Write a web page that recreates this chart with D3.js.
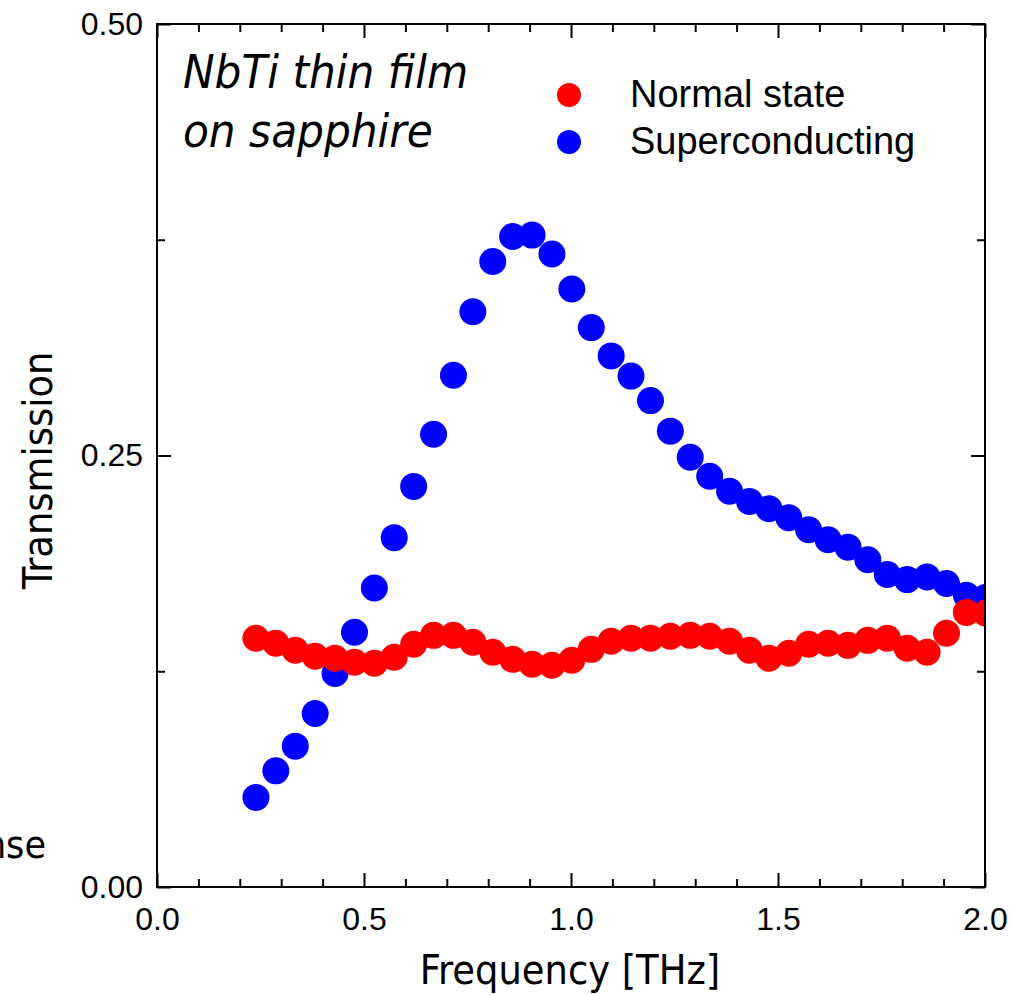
<!DOCTYPE html>
<meta charset="utf-8">
<style>
body { margin: 0; background: #fff; }
.axis text { font-family: "Liberation Sans", Arial, sans-serif; font-size: 32px; fill: #000; }
.axis line { stroke: #000; stroke-width: 2px; }
.title { font-family: "DejaVu Sans Condensed", "DejaVu Sans", sans-serif; font-size: 41px; fill: #000; }
.note { font-family: "DejaVu Sans Condensed", "DejaVu Sans", sans-serif; font-style: italic; font-size: 47px; fill: #000; }
.legend text { font-family: "Liberation Sans", Arial, sans-serif; font-size: 38px; fill: #000; }
</style>
<svg width="1022" height="995"></svg>
<script src="https://cdnjs.cloudflare.com/ajax/libs/d3/7.8.5/d3.min.js"></script>
<script>

// frequency points (THz)
var freq = [0.239, 0.287, 0.334, 0.382, 0.430, 0.477, 0.525, 0.573, 0.620, 0.668,
            0.716, 0.763, 0.811, 0.859, 0.906, 0.954, 1.002, 1.049, 1.097, 1.145,
            1.192, 1.240, 1.288, 1.335, 1.383, 1.431, 1.478, 1.526, 1.574, 1.621,
            1.669, 1.717, 1.764, 1.812, 1.860, 1.907, 1.955, 2.002];

var normalState = [0.1441, 0.1412, 0.1372, 0.1337, 0.1325, 0.1302, 0.1296, 0.1331, 0.1406, 0.1458,
                   0.1458, 0.1418, 0.1360, 0.1319, 0.1291, 0.1285, 0.1314, 0.1377, 0.1424, 0.1441,
                   0.1441, 0.1453, 0.1458, 0.1453, 0.1424, 0.1372, 0.1325, 0.1354, 0.1406, 0.1412,
                   0.1400, 0.1429, 0.1441, 0.1383, 0.1360, 0.1470, 0.1591, 0.1586];

var superconducting = [0.0519, 0.0673, 0.0816, 0.1005, 0.1237, 0.1476, 0.1732, 0.2024, 0.2321, 0.2623,
                       0.2965, 0.3333, 0.3624, 0.3769, 0.3777, 0.3667, 0.3465, 0.3241, 0.3077, 0.2960,
                       0.2818, 0.2641, 0.2490, 0.2380, 0.2293, 0.2234, 0.2192, 0.2140, 0.2070, 0.2012,
                       0.1969, 0.1896, 0.1811, 0.1781, 0.1796, 0.1758, 0.1690, 0.1678];

var xMajor = [0, 0.5, 1.0, 1.5, 2.0];
var xMinor = [0.1, 0.2, 0.3, 0.4, 0.6, 0.7, 0.8, 0.9, 1.1, 1.2, 1.3, 1.4, 1.6, 1.7, 1.8, 1.9];
var yMajor = [0, 0.25, 0.5];
var yMinor = [0.125, 0.375];

var seriesNames = ["Normal state", "Superconducting"];
var seriesColors = ["#ff0000", "#0000ff"];

var svg = d3.select("svg"),
    margin = {top: 24, right: 37, bottom: 108, left: 157},
    width = +svg.attr("width") - margin.left - margin.right,
    height = +svg.attr("height") - margin.top - margin.bottom;

var x = d3.scaleLinear().domain([0, 2]).range([0, width]);
var y = d3.scaleLinear().domain([0, 0.5]).range([height, 0]);

var g = svg.append("g")
    .attr("transform", "translate(" + margin.left + "," + margin.top + ")");

g.append("clipPath")
    .attr("id", "clip")
  .append("rect")
    .attr("width", width)
    .attr("height", height);

// points: superconducting underneath, normal state on top
var plot = g.append("g").attr("clip-path", "url(#clip)");

plot.append("g").selectAll("circle")
  .data(freq.map(function(f, i) { return [f, superconducting[i]]; }))
  .enter().append("circle")
    .attr("cx", function(d) { return x(d[0]); })
    .attr("cy", function(d) { return y(d[1]); })
    .attr("r", 13.5)
    .attr("fill", seriesColors[1]);

plot.append("g").selectAll("circle")
  .data(freq.map(function(f, i) { return [f, normalState[i]]; }))
  .enter().append("circle")
    .attr("cx", function(d) { return x(d[0]); })
    .attr("cy", function(d) { return y(d[1]); })
    .attr("r", 13.5)
    .attr("fill", seriesColors[0]);

// axes, ticks pointing inward on all four sides
function tidy(sel) { sel.select(".domain").remove(); }

g.append("g").attr("class", "axis")
    .attr("transform", "translate(0," + height + ")")
    .call(d3.axisBottom(x).tickValues(xMajor).tickSize(-14).tickPadding(20).tickFormat(d3.format(".1f")))
    .call(tidy);
g.append("g").attr("class", "axis")
    .attr("transform", "translate(0," + height + ")")
    .call(d3.axisBottom(x).tickValues(xMinor).tickSize(-8).tickFormat(""))
    .call(tidy);
g.append("g").attr("class", "axis")
    .call(d3.axisTop(x).tickValues(xMajor).tickSize(-14).tickFormat(""))
    .call(tidy);
g.append("g").attr("class", "axis")
    .call(d3.axisTop(x).tickValues(xMinor).tickSize(-8).tickFormat(""))
    .call(tidy);

g.append("g").attr("class", "axis")
    .call(d3.axisLeft(y).tickValues(yMajor).tickSize(-14).tickPadding(14).tickFormat(d3.format(".2f")))
    .call(tidy);
g.append("g").attr("class", "axis")
    .call(d3.axisLeft(y).tickValues(yMinor).tickSize(-8).tickFormat(""))
    .call(tidy);
g.append("g").attr("class", "axis")
    .attr("transform", "translate(" + width + ",0)")
    .call(d3.axisRight(y).tickValues(yMajor).tickSize(-14).tickFormat(""))
    .call(tidy);
g.append("g").attr("class", "axis")
    .attr("transform", "translate(" + width + ",0)")
    .call(d3.axisRight(y).tickValues(yMinor).tickSize(-8).tickFormat(""))
    .call(tidy);

g.append("rect")
    .attr("width", width)
    .attr("height", height)
    .attr("fill", "none")
    .attr("stroke", "#000")
    .attr("stroke-width", 2);

// axis titles
g.append("text")
    .attr("class", "title")
    .attr("x", width / 2 - 1)
    .attr("y", height + 97)
    .attr("text-anchor", "middle")
    .text("Frequency [THz]");

g.append("text")
    .attr("class", "title")
    .attr("transform", "translate(-105," + (height / 2 + 15) + ")rotate(-90)")
    .attr("text-anchor", "middle")
    .text("Transmission");

// leftover label from a neighbouring panel, cut by the page edge
svg.append("text")
    .attr("class", "title")
    .attr("x", 46)
    .attr("y", 858)
    .attr("text-anchor", "end")
    .style("font-size", "39px")
    .text("Response");

// sample note
var note = g.append("text")
    .attr("class", "note")
    .attr("x", 26)
    .attr("y", 64);
note.append("tspan").text("NbTi thin film");
note.append("tspan").attr("x", 26).attr("dy", 59).text("on sapphire");

// legend
var legend = g.append("g")
    .attr("class", "legend")
    .attr("transform", "translate(412,71)");

var item = legend.selectAll("g")
    .data(seriesNames)
  .enter().append("g")
    .attr("transform", function(d, i) { return "translate(0," + i * 47 + ")"; });

item.append("circle")
    .attr("r", 12)
    .attr("fill", function(d, i) { return seriesColors[i]; });

item.append("text")
    .attr("x", 61)
    .attr("dy", "0.32em")
    .text(function(d) { return d; });

</script>
